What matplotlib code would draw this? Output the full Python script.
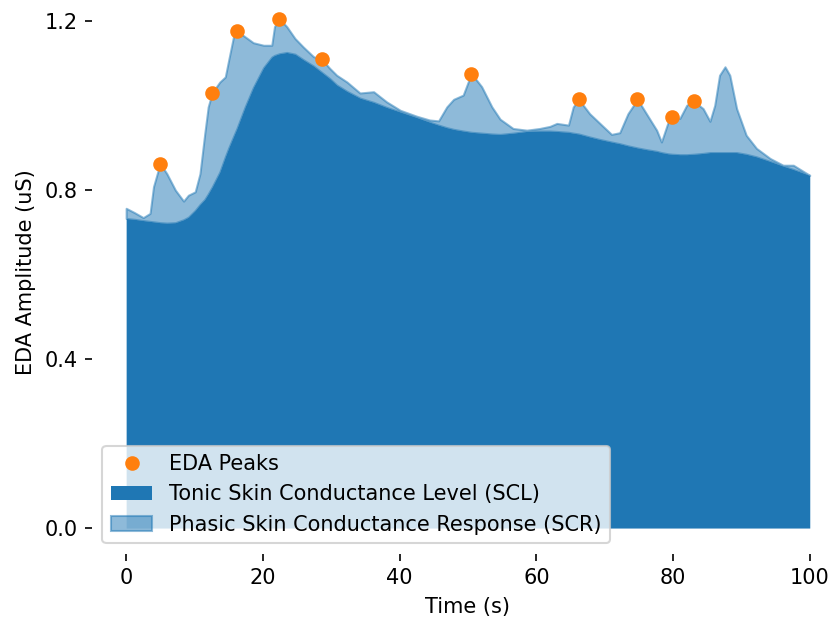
# stacked EDA decomposition: tonic level + phasic response, with detected peaks

import matplotlib.pyplot as plt
import numpy as np

time_s = [0.0, 1.2, 2.5, 3.5, 4.0, 4.97, 5.95, 7.2, 8.4, 9.1, 10.1, 10.8, 11.5, 12.0,
          12.6, 13.7, 14.5, 15.0, 15.7, 16.2, 17.4, 18.6, 20.1, 21.3, 21.7, 22.4,
          23.5, 24.7, 25.9, 27.4, 28.6, 29.8, 30.8, 32.3, 34.2, 36.2, 38.1, 40.1,
          42.5, 44.4, 45.7, 46.9, 47.9, 49.3, 50.5, 52.0, 53.5, 54.7, 56.6, 58.6,
          60.5, 62.0, 63.0, 64.7, 65.4, 66.2, 67.8, 69.3, 71.0, 72.2, 73.4, 74.8,
          76.1, 77.6, 78.3, 79.3, 79.9, 81.0, 82.0, 83.0, 84.4, 85.4, 86.1, 86.8,
          87.6, 88.3, 89.3, 90.7, 92.2, 94.2, 96.1, 97.6, 98.8, 100.0]

tonic = [0.733, 0.731, 0.728, 0.726, 0.725, 0.723, 0.722, 0.723, 0.730, 0.736, 0.752,
         0.766, 0.778, 0.791, 0.808, 0.843, 0.879, 0.900, 0.927, 0.946, 0.997, 1.043,
         1.090, 1.115, 1.119, 1.123, 1.126, 1.122, 1.109, 1.094, 1.079, 1.064, 1.049,
         1.034, 1.018, 1.008, 0.996, 0.985, 0.972, 0.961, 0.954, 0.948, 0.944, 0.940,
         0.937, 0.935, 0.933, 0.932, 0.935, 0.939, 0.940, 0.940, 0.939, 0.937, 0.935,
         0.933, 0.926, 0.920, 0.914, 0.910, 0.905, 0.900, 0.896, 0.892, 0.889, 0.886,
         0.885, 0.884, 0.884, 0.885, 0.887, 0.889, 0.889, 0.889, 0.889, 0.889, 0.889,
         0.885, 0.879, 0.868, 0.857, 0.849, 0.842, 0.835]

eda_total = [0.757, 0.747, 0.735, 0.745, 0.808, 0.863, 0.839, 0.800, 0.774, 0.788, 0.796,
             0.839, 0.934, 0.997, 1.031, 1.056, 1.068, 1.108, 1.163, 1.177, 1.163, 1.149,
             1.143, 1.143, 1.187, 1.206, 1.187, 1.159, 1.139, 1.116, 1.110, 1.088, 1.072,
             1.056, 1.030, 1.033, 1.009, 0.989, 0.975, 0.966, 0.964, 0.997, 1.015, 1.025,
             1.076, 1.045, 0.997, 0.968, 0.946, 0.942, 0.946, 0.951, 0.958, 0.954, 0.997,
             1.015, 0.981, 0.958, 0.932, 0.936, 0.981, 1.015, 0.981, 0.942, 0.914, 0.962,
             0.974, 0.970, 1.001, 1.011, 0.993, 0.963, 1.001, 1.072, 1.092, 1.072, 0.993,
             0.930, 0.899, 0.875, 0.859, 0.859, 0.847, 0.835]

peak_times = [4.97, 12.6, 16.2, 22.4, 28.6, 50.5, 66.2, 74.8, 79.9, 83.0]


def plot_eda():
    t = np.array(time_s)
    scl = np.array(tonic)
    total = np.array(eda_total)
    peaks = np.searchsorted(t, peak_times)

    fig = plt.figure(figsize=(830 / 150, 618 / 150), dpi=150)
    ax = fig.add_axes([0.1108, 0.1042, 0.906, 0.9097])

    ax.fill_between(t, 0, scl, color='C0', linewidth=0,
                    label='Tonic Skin Conductance Level (SCL)')
    ax.fill_between(t, scl, total, color='C0', alpha=0.5, linewidth=1,
                    label='Phasic Skin Conductance Response (SCR)')
    ax.plot(t[peaks], total[peaks], 'o', color='C1', label='EDA Peaks')

    for side in ax.spines.values():
        side.set_visible(False)
    ax.set_xlim(-5, 105)
    ax.set_ylim(-0.0605, 1.2705)
    ax.set_xticks([0, 20, 40, 60, 80, 100])
    ax.set_yticks([0.0, 0.4, 0.8, 1.2])
    ax.set_xlabel('Time (s)')
    ax.set_ylabel('EDA Amplitude (uS)')

    handles, labels = ax.get_legend_handles_labels()
    order = [2, 0, 1]
    ax.legend([handles[i] for i in order], [labels[i] for i in order], loc='lower left')

    fig.savefig('out.png', dpi=150)


plot_eda()
